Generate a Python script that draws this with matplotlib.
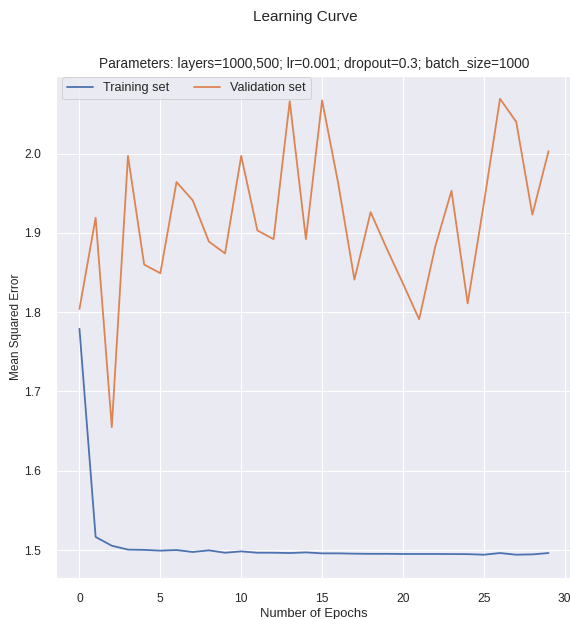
import numpy as np
import seaborn as sns
import matplotlib
matplotlib.use("Agg")
import matplotlib.pyplot as plt

# values
epochs = list(range(30))
train_mse = [1.779, 1.5165, 1.5054, 1.5005, 1.5002, 1.4992, 1.5000, 1.4975,
             1.4996, 1.4966, 1.4983, 1.4966, 1.4966, 1.4962, 1.4970, 1.4958,
             1.4958, 1.4954, 1.4952, 1.4952, 1.4950, 1.4950, 1.4950, 1.4949,
             1.4948, 1.4941, 1.4962, 1.4941, 1.4945, 1.4962]
val_mse = [1.804, 1.919, 1.655, 1.997, 1.860, 1.849, 1.964, 1.941, 1.889,
           1.874, 1.997, 1.903, 1.892, 2.066, 1.892, 2.067, 1.962, 1.841,
           1.926, 1.880, 1.836, 1.791, 1.883, 1.953, 1.811, 1.937, 2.069,
           2.040, 1.923, 2.003]

sns.set()
# the original was drawn in Arial; Liberation Sans has the same metrics
plt.rcParams['font.family'] = ['Liberation Sans', 'DejaVu Sans']
plt.rcParams['xtick.labelsize'] = 12
plt.rcParams['ytick.labelsize'] = 12
plt.rcParams['xtick.major.pad'] = 9
plt.rcParams['ytick.major.pad'] = 9

W, H, DPI = 570, 619, 72
fig = plt.figure(figsize=(W / DPI, H / DPI), dpi=DPI)
ax = fig.add_axes([56 / W, (H - 577.5) / H, (572 - 56) / W, (577.5 - 76) / H])

ax.plot(epochs, train_mse, label="Training set", lw=1.8)
ax.plot(epochs, val_mse, label="Validation set", lw=1.8)

ax.set_xlabel("Number of Epochs", fontsize=13)
ax.set_ylabel("Mean Squared Error", fontsize=11.8, labelpad=2)
ax.set_title("Parameters: layers=1000,500; lr=0.001; dropout=0.3; batch_size=1000",
             fontsize=13.7, pad=8)
ax.legend(loc="upper left", ncol=2, fontsize=12.7,
          bbox_to_anchor=(0.012, 0.998), borderaxespad=0)
fig.suptitle("Learning Curve", x=305 / W, y=1 - 17 / H, va="center", fontsize=15.3)

fig.savefig("out.png", dpi=DPI)
